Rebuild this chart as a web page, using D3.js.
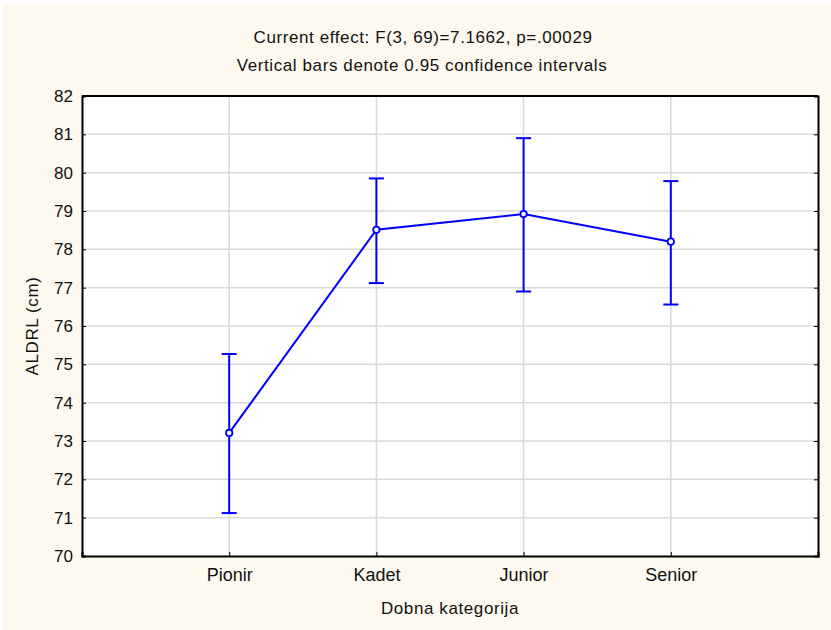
<!DOCTYPE html>
<html lang="en">
<head>
    <meta charset="UTF-8">
    <title>ALDRL by category</title>
    <script src="https://d3js.org/d3.v7.min.js"></script>
    <style>
        body {
            margin: 0;
            padding: 0;
            background: #ffffff;
            font-family: Arial, 'Liberation Sans', sans-serif;
        }
        .grid line {
            stroke: #d9d9d9;
            stroke-width: 1.5px;
        }
        .axis path, .axis line {
            stroke: #000;
        }
        .axis text {
            font-size: 17px;
            fill: #111;
        }
        .axis.x text {
            font-size: 18px;
        }
        .title {
            font-size: 17px;
            letter-spacing: 0.6px;
            fill: #111;
            text-anchor: middle;
        }
    </style>
</head>
<body>
    <div id="chart"></div>

    <script>
        const categories = ["Pionir", "Kadet", "Junior", "Senior"];
        const means = [73.21, 78.51, 78.92, 78.20];
        const lower = [71.12, 77.12, 76.90, 76.56];
        const upper = [75.27, 79.85, 80.90, 79.78];
        const yTicks = [70, 71, 72, 73, 74, 75, 76, 77, 78, 79, 80, 81, 82];

        const width = 831;
        const height = 630;
        const margin = {top: 96, right: 13, bottom: 74, left: 82};
        const innerW = width - margin.left - margin.right;
        const innerH = height - margin.top - margin.bottom;

        const data = categories.map((c, i) => ({
            cat: c, mean: means[i], lo: lower[i], hi: upper[i]
        }));

        const svg = d3.select("#chart")
            .append("svg")
            .attr("width", width)
            .attr("height", height);

        // cream background
        svg.append("rect")
            .attr("x", 3).attr("y", 3)
            .attr("width", width - 3).attr("height", height - 3)
            .attr("fill", "#fdf9ee");

        const g = svg.append("g")
            .attr("transform", `translate(${margin.left},${margin.top})`);

        g.append("rect")
            .attr("width", innerW)
            .attr("height", innerH)
            .attr("fill", "#fff");

        const x = d3.scalePoint()
            .domain(categories)
            .range([0, innerW])
            .padding(1);

        const y = d3.scaleLinear()
            .domain([70, 82])
            .range([innerH, 0]);

        // grid
        g.append("g").attr("class", "grid")
            .selectAll("line.h")
            .data(yTicks.slice(1, -1))
            .join("line")
            .attr("x1", 0).attr("x2", innerW)
            .attr("y1", d => y(d)).attr("y2", d => y(d));

        g.append("g").attr("class", "grid")
            .selectAll("line.v")
            .data(categories)
            .join("line")
            .attr("x1", d => x(d)).attr("x2", d => x(d))
            .attr("y1", 0).attr("y2", innerH);

        // axes
        const yAxis = g.append("g").attr("class", "axis")
            .call(d3.axisLeft(y).tickValues(yTicks).tickSize(-4).tickPadding(9));
        yAxis.select(".domain").attr("stroke-width", 2);

        g.append("g").attr("class", "axis")
            .attr("transform", `translate(${innerW},0)`)
            .call(d3.axisRight(y).tickValues(yTicks).tickSize(-4).tickFormat(""))
            .select(".domain").attr("stroke-width", 2);

        const xAxis = g.append("g").attr("class", "axis x")
            .attr("transform", `translate(0,${innerH})`)
            .call(d3.axisBottom(x).tickSize(-4).tickPadding(12));
        xAxis.select(".domain").attr("stroke-width", 2);

        g.append("line")
            .attr("x1", 0).attr("x2", innerW)
            .attr("y1", 0).attr("y2", 0)
            .attr("stroke", "#000").attr("stroke-width", 2);

        // error bars
        const bars = g.append("g")
            .selectAll("g")
            .data(data)
            .join("g")
            .attr("stroke", "#0000ff")
            .attr("stroke-width", 2);

        bars.append("line")
            .attr("x1", d => x(d.cat)).attr("x2", d => x(d.cat))
            .attr("y1", d => y(d.lo)).attr("y2", d => y(d.hi));
        bars.append("line")
            .attr("x1", d => x(d.cat) - 7.5).attr("x2", d => x(d.cat) + 7.5)
            .attr("y1", d => y(d.lo)).attr("y2", d => y(d.lo));
        bars.append("line")
            .attr("x1", d => x(d.cat) - 7.5).attr("x2", d => x(d.cat) + 7.5)
            .attr("y1", d => y(d.hi)).attr("y2", d => y(d.hi));

        // mean line
        const line = d3.line()
            .x(d => x(d.cat))
            .y(d => y(d.mean));

        g.append("path")
            .datum(data)
            .attr("d", line)
            .attr("fill", "none")
            .attr("stroke", "#0000ff")
            .attr("stroke-width", 2);

        g.selectAll("circle")
            .data(data)
            .join("circle")
            .attr("cx", d => x(d.cat))
            .attr("cy", d => y(d.mean))
            .attr("r", 3.2)
            .attr("fill", "#fff")
            .attr("stroke", "#0000ff")
            .attr("stroke-width", 1.8);

        // titles
        svg.append("text").attr("class", "title")
            .attr("x", 423).attr("y", 43)
            .text("Current effect: F(3, 69)=7.1662, p=.00029");
        svg.append("text").attr("class", "title")
            .attr("x", 422).attr("y", 71)
            .text("Vertical bars denote 0.95 confidence intervals");

        svg.append("text").attr("class", "title")
            .attr("x", margin.left + innerW / 2).attr("y", 614)
            .text("Dobna kategorija");

        svg.append("text").attr("class", "title")
            .attr("transform", `translate(38,${margin.top + innerH / 2}) rotate(-90)`)
            .text("ALDRL (cm)");
    </script>
</body>
</html>
